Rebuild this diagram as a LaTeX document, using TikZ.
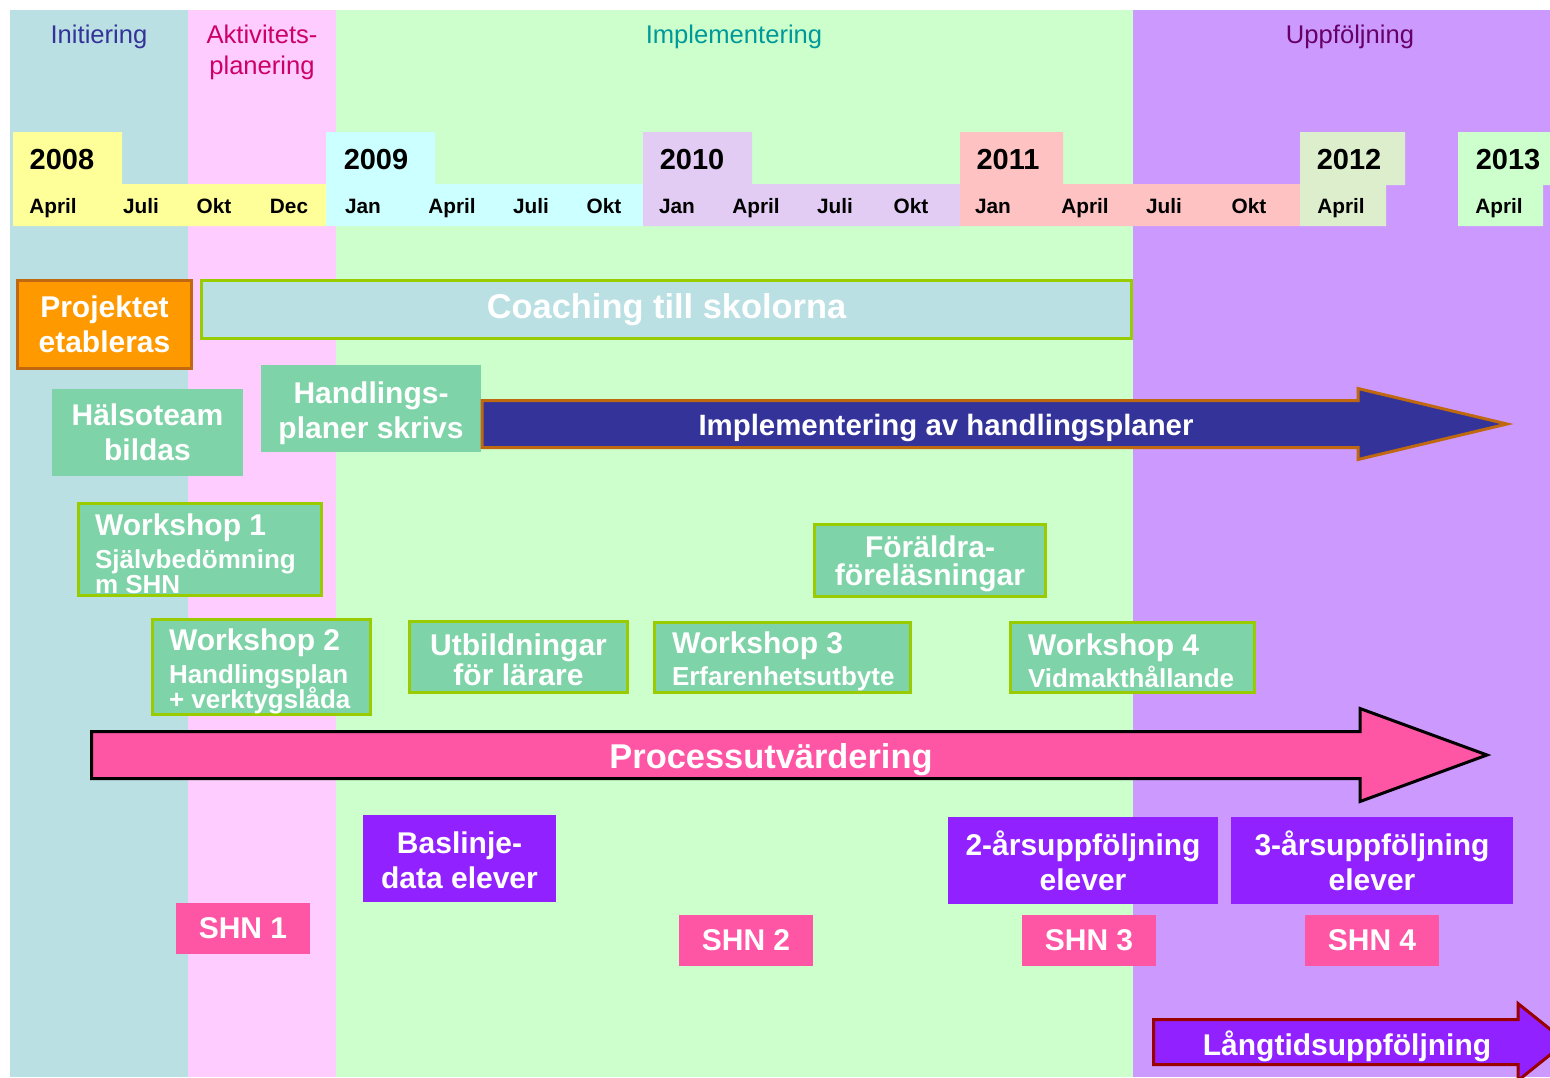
\documentclass[tikz,border=0pt]{standalone}
\usepackage{fontspec}
\setmainfont{Liberation Sans}
\definecolor{initblue}{HTML}{BBE0E3}
\definecolor{planpink}{HTML}{FFCCFF}
\definecolor{implgreen}{HTML}{CCFFCC}
\definecolor{uppviolet}{HTML}{CC99FF}
\definecolor{yr08}{HTML}{FFFF99}
\definecolor{yr09}{HTML}{CCFFFF}
\definecolor{yr10}{HTML}{E2CCF4}
\definecolor{yr11}{HTML}{FFC2C2}
\definecolor{yr12}{HTML}{DDEECC}
\definecolor{yr13}{HTML}{CCFFCC}
\definecolor{boxgreen}{HTML}{7FD3A8}
\definecolor{rimgreen}{HTML}{99CC00}
\definecolor{orangebox}{HTML}{FF9900}
\definecolor{rimbrown}{HTML}{C0680F}
\definecolor{navy}{HTML}{333399}
\definecolor{shnpink}{HTML}{FF55A5}
\definecolor{elevpurple}{HTML}{9121FF}
\definecolor{rimred}{HTML}{990000}
\definecolor{txtinit}{HTML}{333399}
\definecolor{txtplan}{HTML}{CC0066}
\definecolor{txtimpl}{HTML}{009999}
\definecolor{txtupp}{HTML}{660066}
\newcommand{\wsline}[1]{{\fontsize{13}{13}\selectfont #1}}
\newcommand{\lift}[1]{\rule{0pt}{#1}}
\begin{document}
\begin{tikzpicture}[x=0.5pt,y=-0.5pt,
  phase/.style={font=\fontsize{12.8}{15.5}\selectfont,align=center,inner sep=0pt},
  yearlbl/.style={font=\bfseries\fontsize{14.5}{17}\selectfont,anchor=base,inner sep=0pt},
  monlbl/.style={font=\bfseries\fontsize{10.4}{12}\selectfont,anchor=base,inner sep=0pt},
  act/.style={text=white,font=\bfseries\fontsize{15}{17.5}\selectfont,align=center,inner sep=0pt},
  tight/.style={font=\bfseries\fontsize{15}{14}\selectfont},
  grn/.style={act,fill=boxgreen},
  rim/.style={draw=rimgreen,line width=1.5pt},
  wshop/.style={grn,rim,align=flush left,inner xsep=8.25pt},
  elev/.style={act,fill=elevpurple,minimum height=43.5pt},
  shn/.style={act,fill=shnpink,minimum width=67pt,minimum height=25.5pt}]
\useasboundingbox (0,0) rectangle (1550,1077);
\fill[white] (0,0) rectangle (1550,1077);
% phases
\fill[initblue] (10,10) rectangle (188,1077);
\fill[planpink] (188,10) rectangle (336,1077);
\fill[implgreen] (336,10) rectangle (1133,1077);
\fill[uppviolet] (1133,10) rectangle (1550,1077);
\node[phase,text=txtinit] (init) at (99,37) {Initiering};
\node[phase,text=txtplan] (plan) at (262,52.5) {Aktivitets-\\planering};
\node[phase,text=txtimpl] (impl) at (734,37) {Implementering};
\node[phase,text=txtupp] (upp) at (1350,37) {Uppföljning};
% time line
\foreach \c/\a/\b/\e in {yr08/13/122/330,yr09/326/435/643,yr10/643/752/960,yr11/960/1063/1300,yr12/1300/1405/1386,yr13/1458/1550/1543}
  \fill[\c] (\a,132) rectangle (\b,185) (\a,184) rectangle (\e,226);
\foreach \x/\yr in {62/2008,376/2009,692/2010,1008/2011,1349/2012,1508/2013}
  \node[yearlbl] (y\yr) at (\x,169) {\yr};
\foreach \x/\m in {53/April,141/Juli,214/Okt,289/Dec,363/Jan,452/April,531/Juli,604/Okt,677/Jan,756/April,835/Juli,911/Okt,993/Jan,1085/April,1164/Juli,1249/Okt,1341/April,1499/April}
  \node[monlbl] (m\x) at (\x,213) {\m};
% activities
\node[act,fill=orangebox,draw=rimbrown,line width=1.5pt,minimum width=87pt,minimum height=44pt] (proj) at (104.5,324.5) {Projektet\\etableras};
\node[act,fill=initblue,rim,minimum width=465pt,minimum height=29pt,font=\bfseries\fontsize{17.2}{20}\selectfont] (coach) at (666.5,309.5) {Coaching till skolorna};
\node[grn,minimum width=95.5pt,minimum height=43.5pt] (halso) at (147.5,432.5) {Hälsoteam\\bildas};
\node[grn,minimum width=110pt,minimum height=43.5pt] (handl) at (371,408.5) {\lift{16pt}Handlings-\\planer skrivs};
\draw[fill=navy,draw=rimbrown,line width=1.5pt] (482,400.5) -- (1358,400.5) -- (1358,388.5) -- (1507,424)
  -- (1358,459.5) -- (1358,447.5) -- (482,447.5) -- cycle;
\node[act,font=\bfseries\fontsize{14.7}{17}\selectfont] (implarrow) at (946,428) {Implementering av handlingsplaner};
\node[wshop,text width=105pt,minimum height=46pt] (ws1) at (200,549.5)
  {\lift{15pt}Workshop 1\\[-1pt]\wsline{Självbedömning}\\[-5.25pt]\wsline{m SHN}};
\node[wshop,text width=92.5pt,minimum height=47.5pt] (ws2) at (261.5,667)
  {\lift{15pt}Workshop 2\\[-1pt]\wsline{Handlingsplan}\\[-5.25pt]\wsline{+ verktygslåda}};
\node[grn,rim,tight,minimum width=109pt,minimum height=35.5pt] (utb) at (518.5,657) {\lift{13.5pt}Utbildningar\\för lärare};
\node[wshop,inner xsep=8.75pt,text width=110.5pt,minimum height=35pt] (ws3) at (782.5,657.5)
  {\lift{15pt}Workshop 3\\[-1.5pt]\wsline{Erfarenhetsutbyte}};
\node[grn,rim,tight,minimum width=115.5pt,minimum height=36pt] (foral) at (930,560.5) {\lift{14pt}Föräldra-\\föreläsningar};
\node[wshop,inner xsep=8.75pt,text width=104.5pt,minimum height=35pt] (ws4) at (1132.5,657.5)
  {\lift{14pt}Workshop 4\\[-1.5pt]\wsline{Vidmakthållande}};
% evaluation
\draw[fill=shnpink,draw=black,line width=1.5pt] (91.5,731.5) -- (1360,731.5) -- (1360,708.5) -- (1487,755)
  -- (1360,801.5) -- (1360,778.5) -- (91.5,778.5) -- cycle;
\node[act,font=\bfseries\fontsize{17.2}{20}\selectfont] (proc) at (771,760) {Processutvärdering};
\node[elev,minimum width=96.5pt] (bas) at (459.5,858.5) {\lift{13pt}Baslinje-\\data elever};
\node[elev,minimum width=135pt] (two) at (1083,860.5) {2-årsuppföljning\\elever};
\node[elev,minimum width=141pt] (three) at (1372,860.5) {3-årsuppföljning\\elever};
\node[shn] (shn1) at (243,928.5) {SHN 1};
\node[shn] (shn2) at (746,940.5) {SHN 2};
\node[shn] (shn3) at (1089,940.5) {SHN 3};
\node[shn] (shn4) at (1372,940.5) {SHN 4};
\draw[fill=elevpurple,draw=rimred,line width=1.5pt] (1153.5,1019.5) -- (1518,1019.5) -- (1518,1003.5) -- (1566,1042)
  -- (1518,1080.5) -- (1518,1064.5) -- (1153.5,1064.5) -- cycle;
\node[act] (lang) at (1347,1046) {Långtidsuppföljning};
\end{tikzpicture}
\end{document}
